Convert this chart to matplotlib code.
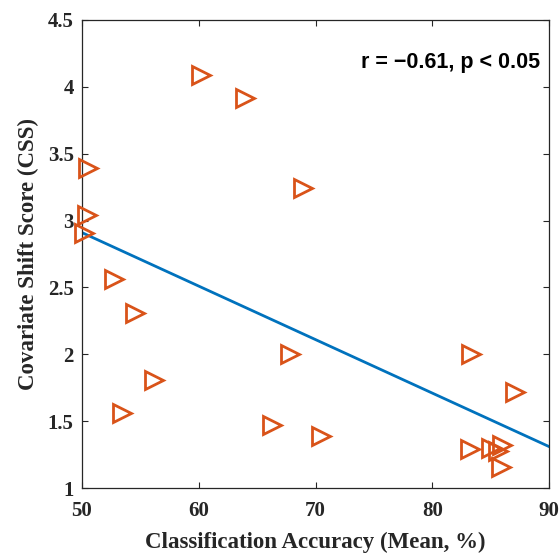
import matplotlib
matplotlib.use("Agg")
import matplotlib.pyplot as plt

# -------------------------
# Data
# -------------------------
accuracy = [60.2, 64.0, 50.5, 68.9, 50.4, 50.2, 52.7, 54.5, 56.2, 53.4,
            67.8, 66.3, 70.5, 83.3, 87.1, 83.2, 85.0, 86.0, 85.6, 85.9]
css = [4.09, 3.92, 3.39, 3.24, 3.04, 2.91, 2.56, 2.31, 1.81, 1.56,
       2.00, 1.47, 1.39, 2.00, 1.72, 1.29, 1.30, 1.32, 1.28, 1.16]

# regression line end points
fit_x = [50, 90]
fit_y = [2.91, 1.31]

x_ticks = [50, 60, 70, 80, 90]
y_ticks = [1, 1.5, 2, 2.5, 3, 3.5, 4, 4.5]
y_ticklabels = ["1", "1.5", "2", "2.5", "3", "3.5", "4", "4.5"]

stat_text = "r = \u22120.61, p < 0.05"

# -------------------------
# Plot
# -------------------------
orange = "#D95319"
blue = "#0072BD"
axcol = "#262626"

fig = plt.figure(figsize=(5.6, 5.54), dpi=100)
ax = fig.add_axes([0.1464, 0.1191, 0.834, 0.8448])

ax.plot(accuracy, css, linestyle="none", marker=">", markersize=12.5,
        markerfacecolor="none", markeredgecolor=orange, markeredgewidth=2,
        clip_on=False, zorder=3)
ax.plot(fit_x, fit_y, color=blue, linewidth=2, zorder=2)

ax.set_xlim(50, 90)
ax.set_ylim(1, 4.5)
ax.set_xticks(x_ticks)
ax.set_yticks(y_ticks)
ax.set_yticklabels(y_ticklabels)

serif = ["Liberation Serif", "DejaVu Serif"]
for lab in ax.get_xticklabels() + ax.get_yticklabels():
    lab.set_family(serif)
    lab.set_fontweight("bold")
    lab.set_fontsize(15)

ax.tick_params(direction="in", length=4, width=0.8, color=axcol,
               labelcolor="#262626", top=True, right=True)
ax.tick_params(axis="x", pad=9)
ax.tick_params(axis="y", pad=6)
for sp in ax.spines.values():
    sp.set_color(axcol)
    sp.set_linewidth(0.9)

ax.set_xlabel("Classification Accuracy (Mean, %)", family=serif,
              fontweight="bold", fontsize=16.5, color="#262626", labelpad=8)
ax.set_ylabel("Covariate Shift Score (CSS)", family=serif,
              fontweight="bold", fontsize=16.5, color="#262626", labelpad=6)

ax.text(0.982, 0.91, stat_text, transform=ax.transAxes, ha="right",
        va="center", family=["Liberation Sans", "DejaVu Sans"],
        fontweight="bold", fontsize=15.5, color="black")

fig.savefig("out.png", dpi=100)
